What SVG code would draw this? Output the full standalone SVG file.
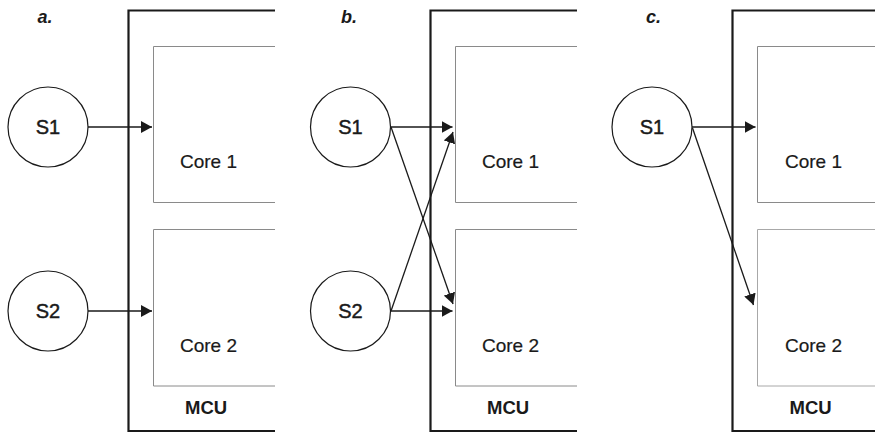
<svg xmlns="http://www.w3.org/2000/svg" width="875" height="433" viewBox="0 0 875 433">
  <defs>
    <style>
      .panel-label { font-family: "Liberation Sans", Arial, sans-serif; font-size: 18px; font-weight: bold; font-style: italic; fill: #1a1a1a; }
      .mcu { fill: none; stroke: #1a1a1a; stroke-width: 2.2; }
      .core { fill: none; stroke: #8a8a8a; stroke-width: 1; }
      .core-light { fill: none; stroke: #a8a8a8; stroke-width: 1; }
      .core-text { font-family: "Liberation Sans", Arial, sans-serif; font-size: 19px; fill: #1a1a1a; stroke: #1a1a1a; stroke-width: 0.2; }
      .mcu-text { font-family: "Liberation Sans", Arial, sans-serif; font-size: 18.5px; font-weight: bold; fill: #1a1a1a; }
      .sensor { fill: #ffffff; stroke: #1a1a1a; stroke-width: 1.2; }
      .sensor-text { font-family: "Liberation Sans", Arial, sans-serif; font-size: 20px; fill: #1a1a1a; stroke: #1a1a1a; stroke-width: 0.45; text-anchor: middle; }
      .arrow { fill: none; stroke: #1a1a1a; stroke-width: 1.3; marker-end: url(#head); }
    </style>
    <marker id="head" markerUnits="userSpaceOnUse" markerWidth="11" markerHeight="12" viewBox="0 0 11 12" refX="11" refY="6" orient="auto">
      <path d="M0,0 L11,6 L0,12 z" fill="#1a1a1a"/>
    </marker>
  </defs>

  <!-- panel labels -->
  <text class="panel-label" x="37.5" y="22.5">a.</text>
  <text class="panel-label" x="341" y="22.5">b.</text>
  <text class="panel-label" x="646" y="22.5">c.</text>

  <!-- Panel a -->
  <g id="a-mcu">
    <path class="mcu" d="M275,10.5 H128.5 V431 H275"/>
    <text class="mcu-text" x="185" y="414">MCU</text>
  </g>
  <g id="a-core1">
    <path class="core" d="M275,46.5 H153.5 V202.5 H275"/>
    <text class="core-text" x="180" y="168">Core 1</text>
  </g>
  <g id="a-core2">
    <path class="core" d="M275,229.5 H153.5 V386 H275"/>
    <text class="core-text" x="180" y="351.5">Core 2</text>
  </g>
  <g id="a-s1">
    <circle class="sensor" cx="48" cy="127" r="40"/>
    <text class="sensor-text" x="48" y="134">S1</text>
  </g>
  <g id="a-s2">
    <circle class="sensor" cx="48" cy="311" r="40"/>
    <text class="sensor-text" x="48" y="318">S2</text>
  </g>

  <!-- Panel b -->
  <g id="b-mcu">
    <path class="mcu" d="M577,10.5 H430.5 V431 H577"/>
    <text class="mcu-text" x="487" y="414">MCU</text>
  </g>
  <g id="b-core1">
    <path class="core" d="M577,46.5 H455.5 V202.5 H577"/>
    <text class="core-text" x="482" y="168">Core 1</text>
  </g>
  <g id="b-core2">
    <path class="core" d="M577,229.5 H455.5 V386 H577"/>
    <text class="core-text" x="482" y="351.5">Core 2</text>
  </g>
  <g id="b-s1">
    <circle class="sensor" cx="350.5" cy="127" r="40"/>
    <text class="sensor-text" x="350.5" y="134">S1</text>
  </g>
  <g id="b-s2">
    <circle class="sensor" cx="350.5" cy="311" r="40"/>
    <text class="sensor-text" x="350.5" y="318">S2</text>
  </g>

  <!-- Panel c -->
  <g id="c-mcu">
    <path class="mcu" d="M876,10.5 H732.5 V431 H876"/>
    <text class="mcu-text" x="789.5" y="414">MCU</text>
  </g>
  <g id="c-core1">
    <path class="core" d="M876,46.5 H757.5 V202.5 H876"/>
    <text class="core-text" x="785" y="168">Core 1</text>
  </g>
  <g id="c-core2">
    <path class="core-light" d="M876,229.5 H757.5 V386 H876"/>
    <text class="core-text" x="785" y="351.5">Core 2</text>
  </g>
  <g id="c-s1">
    <circle class="sensor" cx="652" cy="127" r="40"/>
    <text class="sensor-text" x="652" y="134">S1</text>
  </g>

  <!-- connectors -->
  <g id="connectors">
    <line class="arrow" x1="88" y1="127" x2="152" y2="127"/>
    <line class="arrow" x1="88" y1="311" x2="152" y2="311"/>

    <line class="arrow" x1="390.5" y1="127" x2="452.5" y2="127"/>
    <line class="arrow" x1="391" y1="127" x2="453" y2="304"/>
    <line class="arrow" x1="390.5" y1="311" x2="452.5" y2="311"/>
    <line class="arrow" x1="391" y1="311" x2="453" y2="132"/>

    <line class="arrow" x1="692" y1="127" x2="755.5" y2="127"/>
    <line class="arrow" x1="692.5" y1="128" x2="753.5" y2="305"/>
  </g>
</svg>
